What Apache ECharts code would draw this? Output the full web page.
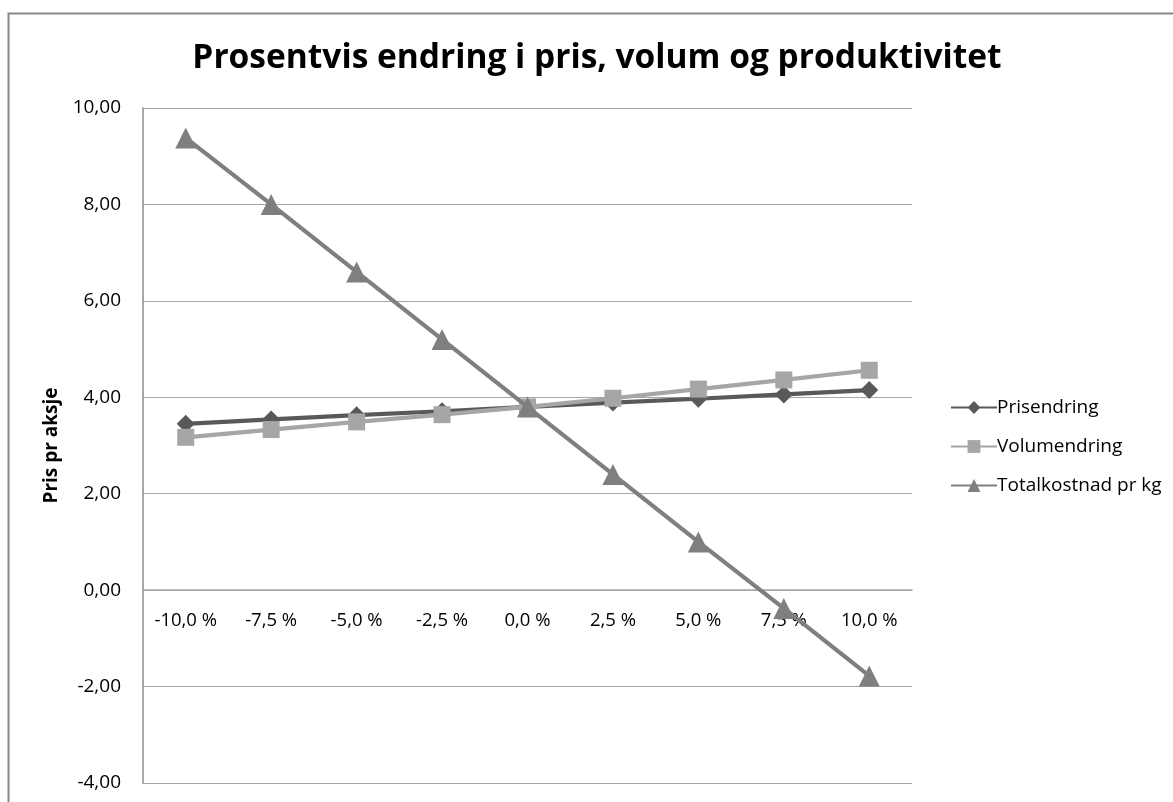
<!DOCTYPE html>
<html>
<head>
<meta charset="utf-8">
<script src="https://cdn.jsdelivr.net/npm/echarts@6/dist/echarts.min.js"></script>
<style>
  html, body { margin: 0; padding: 0; background: #fff; }
  #chart { width: 1173px; height: 802px; }
</style>
</head>
<body>
<div id="chart"></div>
<script>
// Category labels (percentage change)
const categories = ['-10,0 %', '-7,5 %', '-5,0 %', '-2,5 %', '0,0 %', '2,5 %', '5,0 %', '7,5 %', '10,0 %'];

// Series values: price per share
const prisendring = [3.45, 3.54, 3.63, 3.71, 3.80, 3.89, 3.97, 4.06, 4.15];
const volumendring = [3.17, 3.33, 3.49, 3.64, 3.80, 3.98, 4.17, 4.36, 4.56];
const totalkostnad = [9.38, 8.00, 6.60, 5.20, 3.80, 2.40, 1.00, -0.38, -1.78];

const seriesNames = ['Prisendring', 'Volumendring', 'Totalkostnad pr kg'];

// Value axis range
const yMin = -4, yMax = 10, yStep = 2;

const font = 'Open Sans';

// Plot area
const gridTop = 108, gridBottom = 19, chartHeight = 802;
const gridHeight = chartHeight - gridTop - gridBottom;
// Category axis sits at value 0 (shifted up from the bottom of the plot)
const zeroOffset = -gridHeight * (0 - yMin) / (yMax - yMin);

const chart = echarts.init(document.getElementById('chart'), null, { renderer: 'canvas' });

function fmt(v) {
  return v.toFixed(2).replace('.', ',');
}

chart.setOption({
  animation: false,
  backgroundColor: '#ffffff',
  graphic: [{
    type: 'rect',
    shape: { x: 8.5, y: 13.5, width: 1180, height: 800 },
    style: { fill: 'none', stroke: '#878787', lineWidth: 2 },
    silent: true,
    z: 100
  }],
  title: {
    text: 'Prosentvis endring i pris, volum og produktivitet',
    left: 592,
    textAlign: 'center',
    top: 36,
    textStyle: { fontFamily: font, fontWeight: 'bold', fontSize: 33.5, color: '#000' }
  },
  grid: { left: 143, right: 261, top: gridTop, bottom: gridBottom, containLabel: false },
  legend: {
    orient: 'vertical',
    left: 945,
    top: 393,
    itemGap: 20,
    itemWidth: 46,
    itemHeight: 16,
    textStyle: { fontFamily: font, fontSize: 19, color: '#000', padding: [0, 0, 0, -5] },
    data: seriesNames
  },
  xAxis: {
    type: 'category',
    data: categories,
    boundaryGap: true,
    offset: zeroOffset,
    axisLine: { onZero: false, lineStyle: { color: '#a6a6a6', width: 1.5 } },
    axisTick: { show: false },
    axisLabel: { fontFamily: font, fontSize: 18.5, color: '#000', margin: 21 },
    splitLine: { show: false }
  },
  yAxis: {
    type: 'value',
    min: yMin,
    max: yMax,
    interval: yStep,
    name: 'Pris pr aksje',
    nameLocation: 'middle',
    nameGap: 82,
    nameRotate: 90,
    nameTextStyle: { fontFamily: font, fontWeight: 'bold', fontSize: 19, color: '#000' },
    axisLine: { show: true, lineStyle: { color: '#8c8c8c', width: 1.5 } },
    axisTick: { show: false },
    axisLabel: { fontFamily: font, fontSize: 19, color: '#000', margin: 22, formatter: fmt },
    splitLine: { show: true, lineStyle: { color: '#a6a6a6', width: 1.2 } }
  },
  series: [
    {
      name: seriesNames[0],
      type: 'line',
      data: prisendring,
      symbol: 'diamond',
      symbolSize: 18,
      lineStyle: { color: '#595959', width: 4.2 },
      itemStyle: { color: '#595959' },
      z: 2
    },
    {
      name: seriesNames[1],
      type: 'line',
      data: volumendring,
      symbol: 'rect',
      symbolSize: 17,
      lineStyle: { color: '#a6a6a6', width: 4.2 },
      itemStyle: { color: '#a6a6a6' },
      z: 3
    },
    {
      name: seriesNames[2],
      type: 'line',
      data: totalkostnad,
      symbol: 'triangle',
      symbolSize: 21,
      lineStyle: { color: '#7f7f7f', width: 4.2 },
      itemStyle: { color: '#7f7f7f' },
      z: 4
    }
  ]
});
</script>
</body>
</html>
